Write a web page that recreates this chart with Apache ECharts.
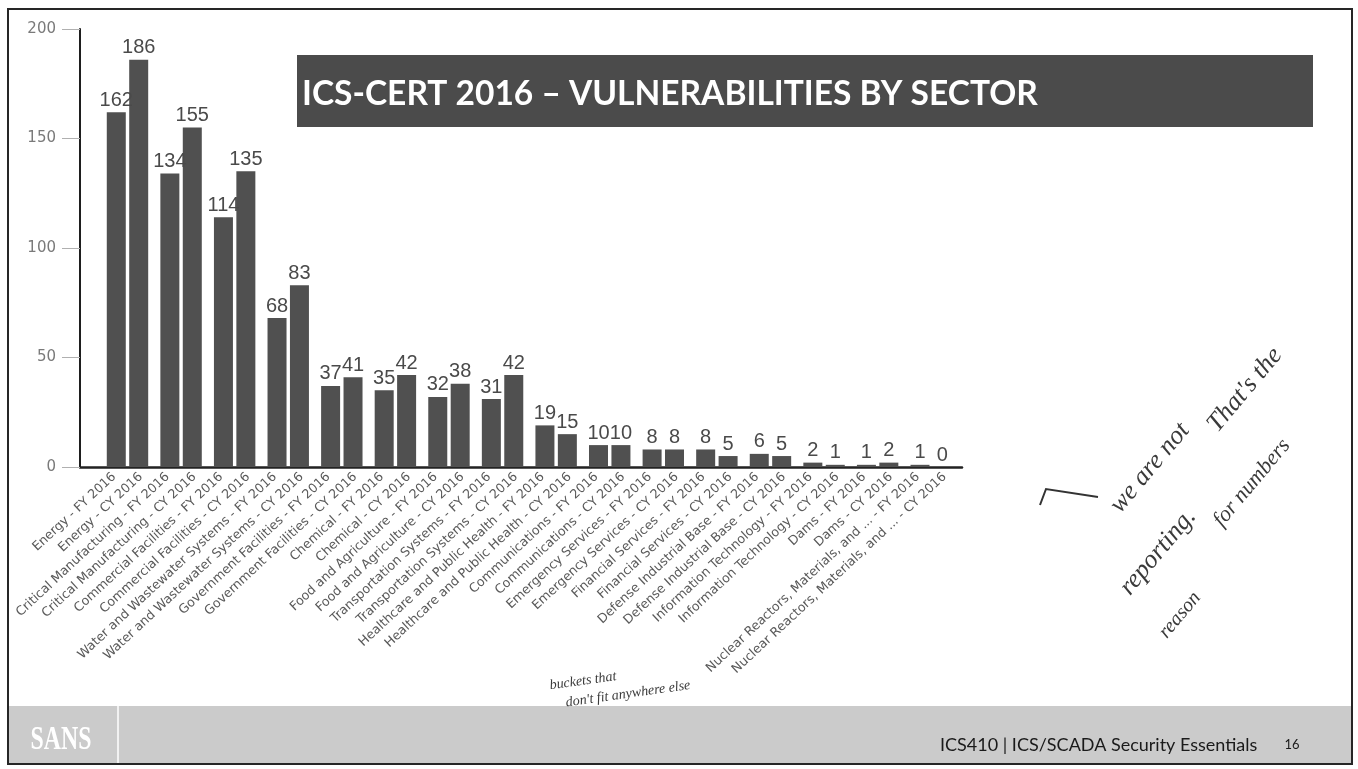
<!DOCTYPE html>
<html>
<head>
<meta charset="utf-8">
<script src="https://cdn.jsdelivr.net/npm/echarts@6/dist/echarts.min.js"></script>
<style>
  html, body { margin: 0; padding: 0; background: #ffffff; }
  #chart { width: 1358px; height: 769px; }
</style>
</head>
<body>
<div id="chart"></div>
<script>
// Sectors reported by ICS-CERT, each with a fiscal-year and a calendar-year count
const sectors = [
  'Energy', 'Critical Manufacturing', 'Commercial Facilities', 'Water and Wastewater Systems',
  'Government Facilities', 'Chemical', 'Food and Agriculture', 'Transportation Systems',
  'Healthcare and Public Health', 'Communications', 'Emergency Services', 'Financial Services',
  'Defense Industrial Base', 'Information Technology', 'Dams', 'Nuclear Reactors, Materials, and ...'
];
const fyValues = [162, 134, 114, 68, 37, 35, 32, 31, 19, 10, 8, 8, 6, 2, 1, 1];
const cyValues = [186, 155, 135, 83, 41, 42, 38, 42, 15, 10, 8, 5, 5, 1, 2, 0];
const yTicks = { min: 0, max: 200, interval: 50 };

// One rotated label under every bar: "<sector> - FY 2016", "<sector> - CY 2016"
const barLabels = [];
sectors.forEach(s => { barLabels.push(s + ' - FY 2016'); barLabels.push(s + ' - CY 2016'); });

const barColor = '#505050';
const valueLabel = {
  show: true, position: 'top', distance: 2,
  fontFamily: 'Liberation Sans', fontSize: 20, color: '#4a4a4a'
};

// Plot frame (axis lines) and bar area share top/bottom; bars start a little right of the y axis
const frame = { left: 80, top: 29, width: 882, height: 438 };
const plot = { left: 100.7, top: 29, width: 857.3, height: 438 };

const chart = echarts.init(document.getElementById('chart'), null, { renderer: 'canvas' });

// pen notes written on the printed slide
const hand = (text, x, y, deg, size) => ({
  type: 'text', x: x, y: y, rotation: deg * Math.PI / 180, z: 10,
  style: {
    text: text, fill: '#3a3a3a', align: 'center', verticalAlign: 'middle',
    font: "italic " + (size || 26) + "px 'Liberation Serif'"
  }
});

chart.setOption({
  backgroundColor: '#ffffff',
  animation: false,
  grid: [
    { left: plot.left, top: plot.top, width: plot.width, height: plot.height },
    { left: frame.left, top: frame.top, width: frame.width, height: frame.height }
  ],
  xAxis: [
    {
      type: 'category', gridIndex: 0, data: sectors,
      axisLine: { show: false }, axisTick: { show: false }, axisLabel: { show: false }
    },
    {
      type: 'category', gridIndex: 0, data: barLabels, position: 'bottom',
      axisLine: { show: false }, axisTick: { show: false },
      axisLabel: {
        interval: 0, rotate: 43, margin: 8,
        fontFamily: 'DejaVu Sans', fontSize: 12.7, color: '#5a5a5a'
      }
    },
    {
      type: 'value', gridIndex: 1, min: 0, max: 1,
      axisLine: { show: true, lineStyle: { color: '#222222', width: 2.5 } },
      axisTick: { show: false }, axisLabel: { show: false }, splitLine: { show: false }
    }
  ],
  yAxis: [
    {
      type: 'value', gridIndex: 1,
      min: yTicks.min, max: yTicks.max, interval: yTicks.interval,
      axisLine: { show: true, lineStyle: { color: '#1e1e1e', width: 2 } },
      axisTick: { show: true, length: 18, lineStyle: { color: '#b0b0b0', width: 1 } },
      axisLabel: { margin: 24, fontFamily: 'DejaVu Sans', fontSize: 15, color: '#7a7a7a' },
      splitLine: { show: false }
    },
    {
      type: 'value', gridIndex: 0,
      min: yTicks.min, max: yTicks.max, interval: yTicks.interval, show: false
    }
  ],
  series: [
    {
      name: 'FY 2016', type: 'bar', xAxisIndex: 0, yAxisIndex: 1,
      data: fyValues, barWidth: 19, barGap: '18%',
      itemStyle: { color: barColor }, label: valueLabel
    },
    {
      name: 'CY 2016', type: 'bar', xAxisIndex: 0, yAxisIndex: 1,
      data: cyValues, barWidth: 19,
      itemStyle: { color: barColor }, label: valueLabel
    }
  ],
  graphic: [
    // slide border
    { type: 'rect', shape: { x: 8, y: 9, width: 1344, height: 755 }, z: 0,
      style: { fill: null, stroke: '#262626', lineWidth: 2 } },
    // title banner
    { type: 'rect', shape: { x: 297, y: 55, width: 1016, height: 72 }, z: 1,
      style: { fill: '#4b4b4b' } },
    { type: 'text', x: 302, y: 94, z: 2,
      style: { text: 'ICS-CERT 2016 – VULNERABILITIES BY SECTOR', fill: '#ffffff',
        font: "bold 33.5px 'Lato'", verticalAlign: 'middle', align: 'left' } },
    // footer band
    { type: 'rect', shape: { x: 9, y: 706, width: 1342, height: 57 }, z: 1,
      style: { fill: '#cbcbcb' } },
    { type: 'line', shape: { x1: 118, y1: 706, x2: 118, y2: 763 }, z: 2,
      style: { stroke: '#f2f2f2', lineWidth: 2 } },
    { type: 'text', x: 61, y: 740, z: 2, scaleX: 0.7,
      style: { text: 'SANS', fill: '#ffffff', font: "bold 34px 'Liberation Serif'",
        align: 'center', verticalAlign: 'middle' } },
    { type: 'text', x: 940, y: 745, z: 2,
      style: { text: 'ICS410 | ICS/SCADA Security Essentials', fill: '#1a1a1a',
        font: "18px 'Lato'", align: 'left', verticalAlign: 'middle' } },
    { type: 'text', x: 1292, y: 745, z: 2,
      style: { text: '16', fill: '#1a1a1a', font: "13px 'Lato'",
        align: 'center', verticalAlign: 'middle' } },
    // handwritten notes
    { type: 'polyline', shape: { points: [[1040, 505], [1046, 489], [1098, 497]] }, z: 10,
      style: { stroke: '#333333', lineWidth: 2, fill: null } },
    hand('we are not', 1150, 468, 50),
    hand("That's the", 1245, 390, 50),
    hand('reporting.', 1158, 552, 50),
    hand('for numbers', 1252, 483, 50, 22),
    hand('reason', 1180, 615, 50, 20),
    hand('buckets that', 583, 681, 8, 14),
    hand("don't fit anywhere else", 628, 694, 8, 14)
  ]
});
</script>
</body>
</html>
